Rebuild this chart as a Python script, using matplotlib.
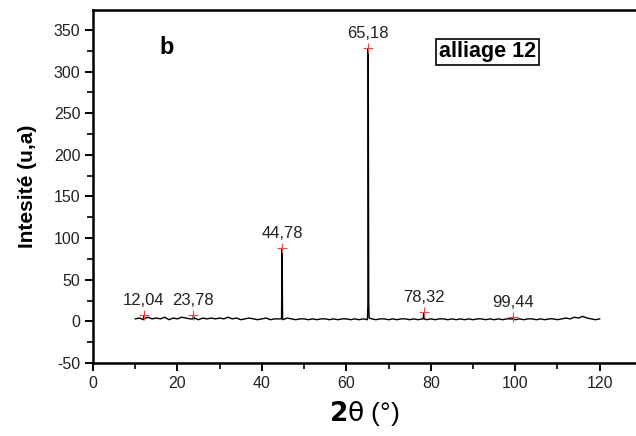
import matplotlib
matplotlib.use("Agg")
import matplotlib.pyplot as plt
import numpy as np

plt.rcParams['font.family'] = ['Liberation Sans', 'DejaVu Sans']
plt.rcParams['axes.unicode_minus'] = False

# baseline 2theta grid (deg) and intensities (u.a.)
base_x = list(range(10, 121))
base_y = [3, 4, 2, 5, 3, 4, 3, 5, 2, 4, 3, 5, 4, 3, 4, 2, 4, 3, 4, 3,
          4, 3, 5, 3, 4, 2, 3, 4, 3, 2, 3, 4, 2, 3, 3, 2, 4, 3, 2, 3,
          3, 2, 3, 2, 3, 3, 2, 3, 2, 3, 3, 2, 3, 2, 3, 2, 3, 2, 3, 3,
          2, 3, 2, 3, 3, 2, 3, 2, 3, 2, 3, 2, 3, 3, 2, 3, 2, 3, 2, 3,
          2, 3, 3, 2, 3, 2, 3, 2, 3, 3, 2, 3, 2, 3, 3, 2, 3, 2, 3, 3,
          2, 3, 4, 3, 5, 4, 6, 4, 3, 2, 3]

# peak profiles (2theta, intensity)
peak_x = [12.0, 12.04, 12.1, 23.7, 23.78, 23.9, 44.65, 44.78, 44.9,
          65.0, 65.1, 65.18, 65.3, 65.4, 78.2, 78.32, 78.45, 99.35, 99.44, 99.55]
peak_y = [3, 7, 3, 3, 7, 3, 3, 88, 3,
          3, 20, 328, 20, 4, 3, 10, 3, 3, 5, 3]

# labelled peaks
lab_pos = [12.04, 23.78, 44.78, 65.18, 78.32, 99.44]
lab_int = [8, 8, 88, 328, 11, 5]
lab_txt = ["12,04", "23,78", "44,78", "65,18", "78,32", "99,44"]

xs = np.array(base_x + peak_x, dtype=float)
ys = np.array(base_y + peak_y, dtype=float)
order = np.argsort(xs, kind="stable")
xs, ys = xs[order], ys[order]

fig = plt.figure(figsize=(6.36, 4.36), dpi=100)
ax = fig.add_axes([93/636, 1-363/436, (636-93)/636, (363-10)/436])
ax.plot(xs, ys, color='black', lw=1.0)
ax.plot(lab_pos, lab_int, '+', color='#ff4040', ms=7, mew=0.8)
for p, v, t in zip(lab_pos, lab_int, lab_txt):
    ax.annotate(t, (p, v), xytext=(0, 5), textcoords='offset points',
                ha='center', va='bottom', fontsize=12, color='#222222')

ax.set_xlim(0, 128.6)
ax.set_ylim(-50, 374)
ax.set_xticks([0, 20, 40, 60, 80, 100, 120])
ax.set_xticks(range(10, 130, 20), minor=True)
ax.set_yticks(range(-50, 351, 50))
ax.set_yticks(range(-25, 375, 50), minor=True)
ax.tick_params(which='major', direction='out', length=6, width=1.4, labelsize=11.5,
               labelcolor='#222222', pad=3)
ax.tick_params(which='minor', direction='out', length=4, width=1.2)
for s in ax.spines.values():
    s.set_linewidth(1.8)
ax.spines['right'].set_visible(False)

ax.text(17.4, 329, "b", fontsize=17, fontweight='bold', ha='center', va='center')
ax.text(93.4, 324, "alliage 12", fontsize=15.5, fontweight='bold', ha='center', va='center',
        bbox=dict(boxstyle='square,pad=0.12', fc='white', ec='black', lw=1.2))

ax.set_ylabel("Intesité (u,a)", fontsize=15, fontweight='bold', labelpad=12)
ax.set_xlabel(r"$\mathbf{2}\mathrm{\theta}$ (°)", fontsize=19, labelpad=6)

fig.savefig("out.png", dpi=100)
